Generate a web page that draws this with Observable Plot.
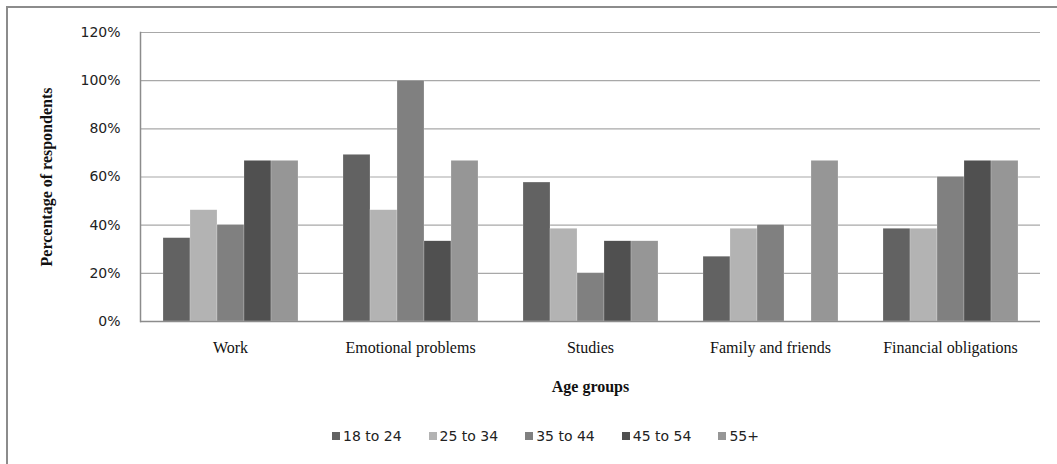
<!DOCTYPE html>
<html>
<head>
<meta charset="utf-8">
<script src="https://cdn.jsdelivr.net/npm/d3@7"></script>
<script src="https://cdn.jsdelivr.net/npm/@observablehq/plot@0.6"></script>
<style>
  html, body { margin: 0; padding: 0; background: #fff; }
  body { position: relative; width: 1057px; height: 464px; overflow: hidden; }
  #frame { position: absolute; left: 6px; top: 6px; width: 1060px; height: 470px;
           border-left: 2px solid #8c8c8c; border-top: 2px solid #8c8c8c; }
  #chart { position: absolute; left: 0; top: 0; }
  #chart svg { font-family: "Liberation Serif", serif; }
  g[aria-label="y-axis tick label"] text { font-family: "DejaVu Sans", sans-serif; font-size: 14px; fill: #222; }
  g[aria-label="y-axis label"] text, g[aria-label="fx-axis label"] text { font-weight: bold; font-size: 16px; fill: #111; }
  g[aria-label="fx-axis tick label"] text { font-size: 16px; fill: #111; }
  #legend { position: absolute; left: 332px; top: 428px; display: flex; align-items: center;
            font-family: "DejaVu Sans", sans-serif; font-size: 14px; color: #222; }
  #legend .item { display: flex; align-items: center; margin-right: 27px; }
  #legend .sw { width: 8px; height: 8px; margin-right: 3px; }
</style>
</head>
<body>
<div id="frame"></div>
<div id="chart"></div>
<div id="legend"></div>
<script>
const categories = ["Work", "Emotional problems", "Studies", "Family and friends", "Financial obligations"];
const groups = ["18 to 24", "25 to 34", "35 to 44", "45 to 54", "55+"];
const colors = ["#626262", "#b3b3b3", "#808080", "#505050", "#969696"];
const age18to24 = [0.346, 0.692, 0.577, 0.269, 0.385];
const age25to34 = [0.462, 0.462, 0.385, 0.385, 0.385];
const age35to44 = [0.40, 1.00, 0.20, 0.40, 0.60];
const age45to54 = [0.667, 0.333, 0.333, 0.0, 0.667];
const age55plus = [0.667, 0.667, 0.333, 0.667, 0.667];
const yTicks = [0, 0.2, 0.4, 0.6, 0.8, 1.0, 1.2];

const series = [age18to24, age25to34, age35to44, age45to54, age55plus];
const rows = categories.flatMap((c, i) => groups.map((g, j) => ({category: c, group: g, value: series[j][i]})));

const plot = Plot.plot({
  width: 1057,
  height: 410,
  marginLeft: 140,
  marginRight: 17,
  marginTop: 32,
  marginBottom: 89,
  fx: {domain: categories, padding: 0, axis: "bottom", tickSize: 0, tickPadding: 20,
       label: "Age groups", labelAnchor: "center", labelOffset: 70},
  x: {domain: groups, paddingInner: 0, paddingOuter: 0.785, axis: null},
  y: {domain: [0, 1.2], ticks: yTicks, tickFormat: d3.format(".0%"), tickSize: 0, tickPadding: 20,
      label: "Percentage of respondents", labelAnchor: "center", labelArrow: "none", labelOffset: 100},
  color: {domain: groups, range: colors},
  marks: [
    Plot.gridY(yTicks, {stroke: "#a8a8a8", strokeOpacity: 1, strokeWidth: 1.2}),
    Plot.barY(rows, {fx: "category", x: "group", y: "value", fill: "group", stroke: "#ffffff", strokeWidth: 0.4, strokeOpacity: 0.5}),
    Plot.ruleY([0], {stroke: "#8c8c8c", strokeWidth: 1.5}),
    Plot.frame({anchor: "left", facetAnchor: "left", stroke: "#8c8c8c", strokeWidth: 1.5})
  ]
});
document.getElementById("chart").appendChild(plot);

const legend = document.getElementById("legend");
groups.forEach((g, i) => {
  const item = document.createElement("div");
  item.className = "item";
  const sw = document.createElement("span");
  sw.className = "sw";
  sw.style.background = plot.scale("color").apply(g);
  const t = document.createElement("span");
  t.textContent = g;
  item.appendChild(sw);
  item.appendChild(t);
  legend.appendChild(item);
});
</script>
</body>
</html>
